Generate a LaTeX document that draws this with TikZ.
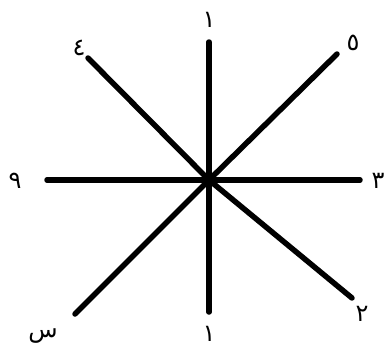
\documentclass[tikz,border=0pt]{standalone}
\usepackage{fontspec}
\newfontfamily\arabicfont[Script=Arabic]{DejaVu Sans}
\begin{document}
\begin{tikzpicture}[x=1pt,y=-1pt,
  ray/.style={line width=5.5pt,line cap=round,black},
  lbl/.style={font=\arabicfont\fontsize{24}{26}\selectfont,inner sep=0pt}]
\useasboundingbox (0,0) rectangle (392,349);
\coordinate (c) at (209,180);
\coordinate (t) at (209,42);
\coordinate (b) at (209,312);
\coordinate (l) at (47,180);
\coordinate (r) at (360,180);
\coordinate (tl) at (88,58);
\coordinate (tr) at (337,54);
\coordinate (bl) at (75,314);
\coordinate (br) at (352,298);
\draw[ray] (t) -- (c) -- (b);
\draw[ray] (l) -- (c) -- (r);
\draw[ray] (tl) -- (c) -- (br);
\draw[ray] (tr) -- (c) -- (bl);
\node[lbl] (lt) at (209,20) {١};
\node[lbl] (ltr) at (353,43) {٥};
\node[lbl] (ltl) at (79,48) {٤};
\node[lbl] (ll) at (15,181) {٩};
\node[lbl] (lr) at (378,181) {٣};
\node[lbl] (lbr) at (362,314) {٢};
\node[lbl] (lb) at (209,334) {١};
\node[lbl] (lbl) at (43,336) {س};
\end{tikzpicture}
\end{document}
